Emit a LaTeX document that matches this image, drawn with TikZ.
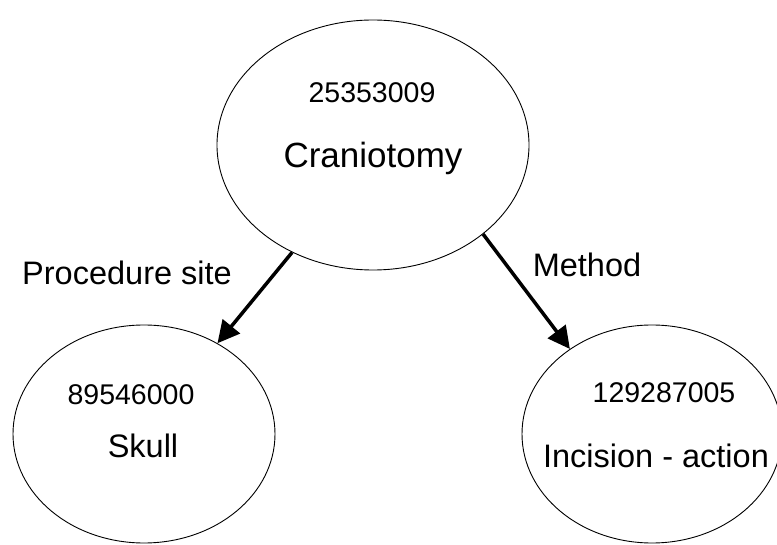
\documentclass[tikz,border=0pt]{standalone}
\usepackage{fontspec}
\setmainfont{Liberation Sans}
\usetikzlibrary{arrows.meta,shapes.geometric}

\begin{document}
\begin{tikzpicture}[x=1pt, y=1pt,
  concept/.style={draw=black, line width=0.9pt, ellipse, inner sep=0pt},
  idtext/.style={anchor=base, inner sep=0pt, font=\fontsize{28.5}{34}\selectfont},
  nametext/.style={anchor=base, inner sep=0pt, font=\fontsize{32.5}{38}\selectfont},
  relarrow/.style={line width=3.5pt, -{Triangle[length=22pt,width=22pt]}}]
\useasboundingbox (0,0) rectangle (777,544);
\node[concept, minimum width=312, minimum height=250] (cranio) at (373,399) {};
\node[concept, minimum width=262, minimum height=218] (skull) at (144,110) {};
\node[concept, minimum width=260, minimum height=218] (incision) at (652,110) {};
\node[idtext] (cranioid) at (372,441) {25353009};
\node[nametext, font=\fontsize{35}{40}\selectfont] (craniolbl) at (373,376) {Craniotomy};
\node[idtext] (skullid) at (131,139) {89546000};
\node[nametext] (skulllbl) at (143,86) {Skull};
\node[idtext] (incisionid) at (664,141) {129287005};
\node[nametext] (incisionlbl) at (656,76) {Incision - action};
\draw[relarrow] (cranio.233) -- (skull.51);
\draw[relarrow] (cranio.-39) -- (incision.134);
\node[nametext] (sitelbl) at (127,259) {Procedure site};
\node[nametext] (methodlbl) at (587,267) {Method};
\end{tikzpicture}
\end{document}
